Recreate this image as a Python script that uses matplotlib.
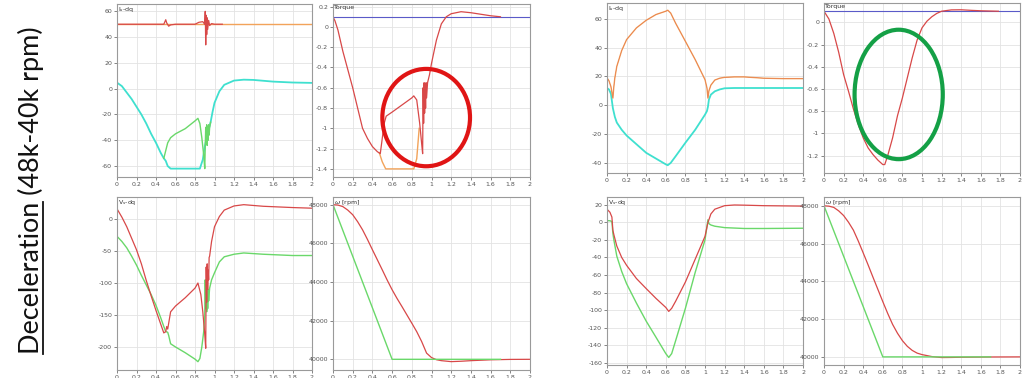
import matplotlib
matplotlib.use("Agg")
import matplotlib.pyplot as plt
from matplotlib.patches import Ellipse
from matplotlib.ticker import FuncFormatter
from matplotlib.lines import Line2D

# ---------------- data ----------------
xticks = [0, 0.2, 0.4, 0.6, 0.8, 1.0, 1.2, 1.4, 1.6, 1.8, 2.0]

# Left group: current (Is-dq)
L_id_ref_t = [0, 2.0]
L_id_ref = [50, 50]
L_id_t = [0, 0.48, 0.5, 0.51, 0.53, 0.55, 0.6, 0.8, 0.84, 0.88, 0.9, 0.905, 0.91,
          0.915, 0.92, 0.925, 0.93, 0.94, 0.95, 0.97, 1.0, 1.08]
L_id = [50, 50, 53.5, 51, 48.5, 49.5, 50, 50, 51.5, 52, 50, 60, 34,
        57, 42, 55, 46, 53, 49, 50.5, 50, 50]
L_iqref_t = [0, 0.05, 0.1, 0.15, 0.2, 0.25, 0.3, 0.35, 0.4, 0.45, 0.48, 0.5, 0.52, 0.55,
             0.85, 0.88, 0.9, 0.92, 0.94, 0.96, 0.98, 1.0, 1.05, 1.1, 1.2, 1.3, 1.4,
             1.6, 1.8, 2.0]
L_iqref = [4.7, 2, -3, -8, -14, -20, -27, -35, -42, -50, -54, -56, -60, -62,
           -62, -55, -45, -38, -32, -26, -18, -11, -2, 3, 6.3, 7, 6.8,
           5.5, 4.8, 4.5]
L_iq_t = [0.48, 0.5, 0.52, 0.55, 0.6, 0.7, 0.8, 0.83, 0.85, 0.87, 0.89, 0.9, 0.905,
          0.91, 0.915, 0.92, 0.925, 0.93, 0.935, 0.94, 0.945, 0.95, 0.96]
L_iq = [-54, -48, -42, -38, -35, -31, -25, -23, -27, -38, -52, -62, -45,
        -30, -42, -28, -44, -30, -40, -28, -36, -30, -26]

# Left group: torque
L_tref_t = [0, 2.0]
L_tref = [0.1, 0.1]
L_tq_t = [0, 0.02, 0.05, 0.1, 0.15, 0.2, 0.25, 0.3, 0.35, 0.4, 0.45, 0.48, 0.5, 0.52,
          0.54, 0.6, 0.7, 0.8, 0.82, 0.85, 0.88, 0.9, 0.91, 0.915, 0.92, 0.925, 0.93,
          0.935, 0.94, 0.945, 0.95, 0.96, 0.98, 1.0, 1.05, 1.1, 1.15, 1.2, 1.3, 1.4,
          1.5, 1.6, 1.7]
L_tq = [0.1, 0.06, -0.03, -0.24, -0.42, -0.6, -0.8, -1.0, -1.1, -1.18, -1.23, -1.25,
        -1.1, -0.95, -0.88, -0.84, -0.77, -0.70, -0.68, -0.72, -0.95, -1.15, -1.25,
        -0.6, -0.95, -0.55, -0.85, -0.6, -0.8, -0.55, -0.7, -0.55, -0.47, -0.36,
        -0.13, 0.03, 0.1, 0.13, 0.15, 0.14, 0.125, 0.11, 0.1]
L_tlim_t = [0.47, 0.5, 0.535, 0.82, 0.85, 0.875]
L_tlim = [-1.24, -1.33, -1.4, -1.4, -1.3, -1.0]

# Left group: voltage (Vs-dq)
L_v_t = [0, 0.05, 0.1, 0.15, 0.2, 0.25, 0.3, 0.35, 0.4, 0.45, 0.48, 0.5, 0.51, 0.52,
         0.53, 0.55, 0.6, 0.7, 0.8, 0.83, 0.86, 0.88, 0.9, 0.91, 0.915, 0.92, 0.925,
         0.93, 0.935, 0.94, 0.945, 0.95, 0.97, 1.0, 1.05, 1.1, 1.2, 1.3, 1.5, 1.8, 2.0]
L_vd = [16, 3, -12, -30, -48, -70, -96, -120, -143, -165, -178, -176, -168, -172,
        -163, -145, -136, -123, -108, -100, -118, -145, -180, -202, -75, -130, -70,
        -110, -80, -95, -60, -58, -35, -12, 4, 14, 20.5, 22.5, 20, 18, 17]
L_vq_t = [0, 0.05, 0.1, 0.15, 0.2, 0.25, 0.3, 0.35, 0.4, 0.45, 0.48, 0.5, 0.52, 0.53,
          0.55, 0.6, 0.7, 0.8, 0.83, 0.85, 0.87, 0.89, 0.9, 0.905, 0.91, 0.915, 0.92,
          0.925, 0.93, 0.935, 0.94, 0.95, 0.97, 1.0, 1.05, 1.1, 1.2, 1.3, 1.5, 1.8, 2.0]
L_vq = [-27, -35, -45, -58, -72, -88, -103, -118, -135, -155, -168, -176, -177, -182,
        -195, -200, -209, -219, -223, -218, -200, -175, -150, -95, -140, -100, -145,
        -105, -140, -110, -128, -108, -95, -84, -67, -59, -55, -53, -55, -57, -57]

# Left group: speed
L_wref_t = [0, 0.6, 1.7]
L_wref = [48000, 40000, 40000]
L_w_t = [0, 0.05, 0.1, 0.15, 0.2, 0.25, 0.3, 0.35, 0.4, 0.45, 0.5, 0.55, 0.6, 0.65,
         0.7, 0.75, 0.8, 0.85, 0.9, 0.95, 1.0, 1.05, 1.1, 1.2, 1.3, 1.4, 1.6, 1.8, 2.0]
L_w = [48000, 47980, 47900, 47720, 47480, 47120, 46700, 46200, 45670, 45150, 44630,
       44100, 43600, 43150, 42730, 42300, 41870, 41430, 40920, 40320, 40090, 39980,
       39930, 39880, 39900, 39930, 39975, 39995, 40000]

# Right group: current
R_i_t = [0, 0.02, 0.04, 0.06, 0.07, 0.08, 0.1, 0.15, 0.2, 0.3, 0.4, 0.5, 0.6, 0.62,
         0.65, 0.7, 0.8, 0.9, 1.0, 1.02, 1.03, 1.04, 1.06, 1.1, 1.15, 1.2, 1.3, 1.4,
         1.6, 1.8, 2.0]
R_id = [19, 17, 13, 5, 13, 19, 27, 38, 45.6, 53.7, 59, 63, 65.3, 66,
        64, 57, 44.4, 31.7, 17.8, 12, 5, 10, 14, 17.5, 18.8, 19.4, 19.7, 19.7,
        18.8, 18.5, 18.5]
R_iq = [12, 11, 8, -2, -5, -8, -12, -17, -21, -27, -33, -37, -41, -41.6,
        -40, -35.4, -26, -17, -6.5, -4, -1, 4, 7.4, 9.7, 11, 11.8, 12, 12,
        12, 12, 12]

# Right group: torque
R_tref_t = [0, 2.0]
R_tref = [0.1, 0.1]
R_tq_t = [0, 0.05, 0.1, 0.15, 0.2, 0.25, 0.3, 0.35, 0.4, 0.45, 0.5, 0.55, 0.6, 0.62,
          0.65, 0.7, 0.75, 0.8, 0.85, 0.9, 0.95, 1.0, 1.05, 1.1, 1.15, 1.2, 1.3, 1.4,
          1.5, 1.6, 1.78]
R_tq = [0.1, 0.03, -0.1, -0.27, -0.47, -0.62, -0.78, -0.92, -1.04, -1.13, -1.19,
        -1.24, -1.28, -1.28, -1.2, -1.04, -0.84, -0.68, -0.5, -0.32, -0.16, -0.05,
        0.01, 0.05, 0.08, 0.1, 0.112, 0.113, 0.108, 0.104, 0.1]

# Right group: voltage
R_v_t = [0, 0.03, 0.05, 0.06, 0.07, 0.1, 0.15, 0.2, 0.3, 0.4, 0.5, 0.6, 0.63, 0.66,
         0.7, 0.8, 0.9, 1.0, 1.03, 1.04, 1.06, 1.1, 1.2, 1.3, 1.4, 1.6, 2.0]
R_vd = [15, 11.5, 6, -9, -14, -27, -40, -49, -64, -75.5, -86.7, -97, -101.5, -98,
        -90, -68, -42, -16, 0, 3, 9.6, 15, 19, 19.8, 19.6, 19, 18.5]
R_vq = [2, 1.8, 1, -12.6, -20, -38.5, -56, -70, -92, -112.6, -131, -149.6, -154,
        -149.6, -135, -98, -57, -20, 3, -1.5, -3, -4.4, -6, -6.5, -7, -7, -6.7]

# Right group: speed
R_wref_t = [0, 0.6, 1.7]
R_wref = [48000, 40000, 40000]
R_w_t = [0, 0.05, 0.1, 0.15, 0.2, 0.25, 0.3, 0.35, 0.4, 0.45, 0.5, 0.55, 0.6, 0.65,
         0.7, 0.75, 0.8, 0.85, 0.9, 0.95, 1.0, 1.1, 1.2, 1.3, 1.4, 1.7, 2.0]
R_w = [48000, 47980, 47914, 47730, 47484, 47130, 46710, 46130, 45505, 44870, 44215,
       43570, 42925, 42300, 41720, 41250, 40860, 40560, 40344, 40200, 40120, 40017,
       39965, 39970, 39980, 39995, 40000]

side_title_main = "Deceleration"
side_title_rest = " (48k-40k rpm)"

# ---------------- styling ----------------
W, H = 1024, 378
RED = "#d84848"
ORANGE = "#f2a35a"
CYAN = "#3fe0cf"
GREEN = "#6ad86a"
BLUE = "#5a5ac8"

fig = plt.figure(figsize=(W / 100, H / 100), dpi=100)
fig.patch.set_facecolor("white")


def add_ax(l, t, r, b):
    return fig.add_axes([l / W, 1 - b / H, (r - l) / W, (b - t) / H])


fmt = FuncFormatter(lambda v, p: "%g" % (round(v, 6) + 0.0))


def style(ax, ylim, yticks, label):
    ax.set_xlim(0, 2)
    ax.set_ylim(*ylim)
    ax.set_xticks(xticks)
    ax.set_yticks(yticks)
    ax.xaxis.set_major_formatter(fmt)
    ax.yaxis.set_major_formatter(fmt)
    ax.grid(True, color="#e3e3e3", lw=0.6)
    ax.set_axisbelow(True)
    ax.tick_params(labelsize=4.5, colors="#555555", length=2, width=0.5, pad=1.5)
    for s in ax.spines.values():
        s.set_color("#9a9a9a")
        s.set_linewidth(0.8)
    ax.text(0.006, 0.992, label, transform=ax.transAxes, fontsize=4.5,
            va="top", ha="left", color="#333333")


# Left group
ax1 = add_ax(117, 4, 312, 177)
ax1.plot(L_id_ref_t, L_id_ref, color=ORANGE, lw=1.0)
ax1.plot(L_iqref_t, L_iqref, color=CYAN, lw=1.3)
ax1.plot(L_iq_t, L_iq, color=GREEN, lw=1.0)
ax1.plot(L_id_t, L_id, color=RED, lw=0.9)
style(ax1, (-68.5, 65.7), [-60, -40, -20, 0, 20, 40, 60], r"I$_s$-dq")

ax2 = add_ax(333, 4, 530, 177)
ax2.plot(L_tref_t, L_tref, color=BLUE, lw=0.8)
ax2.plot(L_tlim_t, L_tlim, color=ORANGE, lw=1.0)
ax2.plot(L_tq_t, L_tq, color=RED, lw=0.9)
style(ax2, (-1.48, 0.226), [-1.4, -1.2, -1.0, -0.8, -0.6, -0.4, -0.2, 0, 0.2], "Torque")
ax2.add_patch(Ellipse((0.946, -0.894), 0.89, 0.96, fill=False, ec="#e01515", lw=3,
                      clip_on=False, zorder=5))

ax3 = add_ax(117, 197, 312, 370)
ax3.plot(L_vq_t, L_vq, color=GREEN, lw=1.0)
ax3.plot(L_v_t, L_vd, color=RED, lw=0.9)
style(ax3, (-236, 34.5), [-200, -150, -100, -50, 0], r"V$_s$-dq")

ax4 = add_ax(333, 197, 530, 370)
ax4.plot(L_w_t, L_w, color=RED, lw=0.9)
ax4.plot(L_wref_t, L_wref, color=GREEN, lw=1.0)
style(ax4, (39447, 48397), [40000, 42000, 44000, 46000, 48000], r"$\omega$ [rpm]")

# Right group
ax5 = add_ax(607, 3, 803, 173)
ax5.plot(R_i_t, R_iq, color=CYAN, lw=1.3)
ax5.plot(R_i_t, R_id, color=ORANGE, lw=1.0)
ax5.plot(R_i_t, R_id, color=RED, lw=0.3, alpha=0.6)
style(ax5, (-47, 71), [-40, -20, 0, 20, 40, 60], r"I$_s$-dq")

ax6 = add_ax(824, 3, 1020, 173)
ax6.plot(R_tref_t, R_tref, color=BLUE, lw=0.8)
ax6.plot(R_tq_t, R_tq, color=RED, lw=0.9)
style(ax6, (-1.356, 0.174), [-1.2, -1.0, -0.8, -0.6, -0.4, -0.2, 0], "Torque")
ax6.add_patch(Ellipse((0.762, -0.649), 0.90, 1.165, fill=False, ec="#14a046", lw=3,
                      clip_on=False, zorder=5))

ax7 = add_ax(607, 197, 803, 365)
ax7.plot(R_v_t, R_vq, color=GREEN, lw=1.0)
ax7.plot(R_v_t, R_vd, color=RED, lw=0.9)
style(ax7, (-162.6, 28.9), [-160, -140, -120, -100, -80, -60, -40, -20, 0, 20], r"V$_s$-dq")

ax8 = add_ax(824, 197, 1020, 365)
ax8.plot(R_w_t, R_w, color=RED, lw=0.9)
ax8.plot(R_wref_t, R_wref, color=GREEN, lw=1.0)
style(ax8, (39570, 48465), [40000, 42000, 44000, 46000, 48000], r"$\omega$ [rpm]")

# ---------------- vertical side title ----------------
renderer = fig.canvas.get_renderer()
base_x = 39 / W
start_px, end_px = 354, 25
full = fig.text(base_x, 1 - start_px / H, side_title_main + side_title_rest,
                rotation=90, rotation_mode="anchor", ha="left", va="baseline",
                fontsize=20, family="Lato", color="#111111")
ext = full.get_window_extent(renderer)
fs = 20 * (start_px - end_px) / ext.height
full.set_fontsize(fs)
probe = fig.text(base_x, 1 - start_px / H, side_title_main, rotation=90,
                 rotation_mode="anchor", ha="left", va="baseline", fontsize=fs,
                 family="Lato")
pext = probe.get_window_extent(renderer)
probe.remove()
fig.add_artist(Line2D([42.5 / W, 42.5 / W], [pext.y0 / H, pext.y1 / H],
                      color="#111111", lw=1.3))

fig.savefig("out.png", dpi=100, facecolor="white")
